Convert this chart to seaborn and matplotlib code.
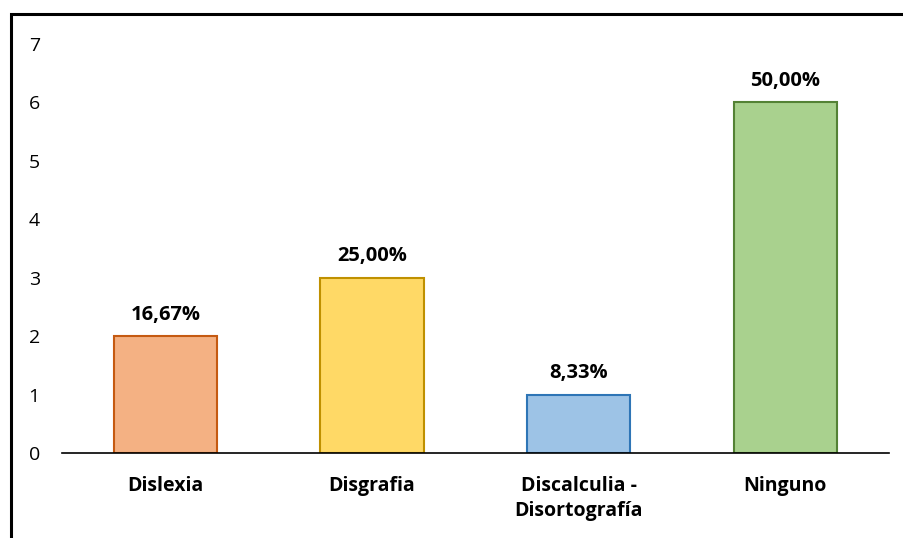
import matplotlib.pyplot as plt
import matplotlib.patches as mpatches
import seaborn as sns
import pandas as pd

categories = ["Dislexia", "Disgrafia", "Discalculia -\nDisortografía", "Ninguno"]
counts = [2, 3, 1, 6]
pct_labels = ["16,67%", "25,00%", "8,33%", "50,00%"]
fill_colors = ["#F4B183", "#FFD966", "#9DC3E6", "#A9D18E"]
edge_colors = ["#C55A11", "#BF9000", "#2E75B6", "#548235"]

sns.set_theme(style="white")
plt.rcParams['font.family'] = ['Open Sans', 'DejaVu Sans']

df = pd.DataFrame({"cat": categories, "n": counts})

fig = plt.figure(figsize=(9.04, 5.38), dpi=100)
ax = fig.add_axes([0.0686, 0.158, 0.9144, 0.761])

sns.barplot(data=df, x="cat", y="n", hue="cat", palette=fill_colors,
            saturation=1, width=0.5, legend=False, ax=ax, linewidth=1.5)
for bar, ec in zip(ax.patches, edge_colors):
    bar.set_edgecolor(ec)

for cont, lab in zip(ax.containers, pct_labels):
    ax.bar_label(cont, labels=[lab], padding=8, fontsize=14.5, fontweight="bold", color="black")

ax.set_ylim(0, 7)
ax.set_yticks(range(0, 8))
ax.set_xlim(-0.5, 3.5)
ax.set_xlabel("")
ax.set_ylabel("")
for s in ["left", "right", "top"]:
    ax.spines[s].set_visible(False)
ax.spines["bottom"].set_color("black")
ax.spines["bottom"].set_linewidth(1.2)
ax.tick_params(axis="y", length=0, pad=16, labelsize=14, labelcolor="black")
ax.tick_params(axis="x", length=0, pad=16.5, labelsize=14, labelcolor="black")
for t in ax.get_xticklabels():
    t.set_fontweight("bold")
    t.set_verticalalignment("top")
    t.set_linespacing(1.35)

# outer frame of the chart area
fig.patches.append(mpatches.Rectangle((11 / 904, -0.1), 1.2, 1 - 14 / 538 + 0.1,
                                      transform=fig.transFigure, fill=False,
                                      edgecolor="black", linewidth=2.2))

fig.savefig("out.png", dpi=100)
